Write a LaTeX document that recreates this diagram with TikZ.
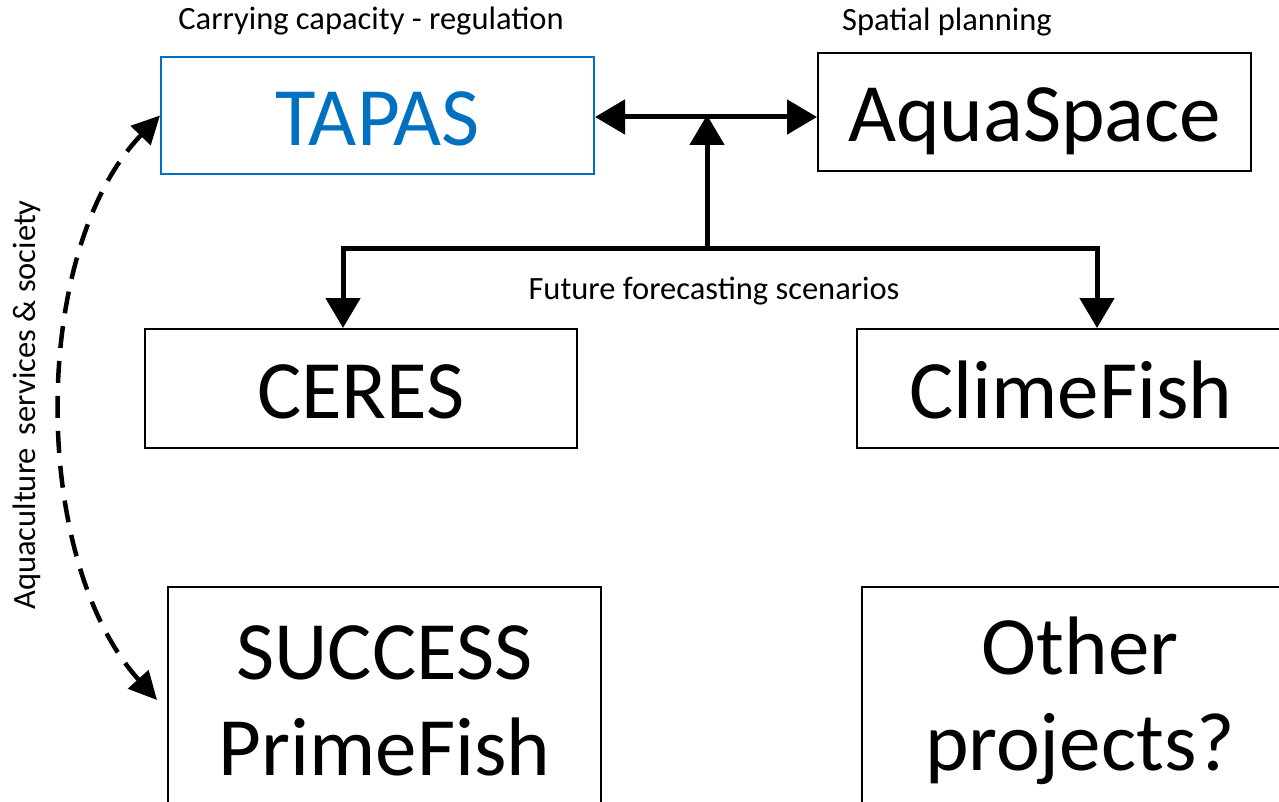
\documentclass[tikz,border=0pt]{standalone}
\usepackage{fontspec}
\setmainfont{Carlito}
\usetikzlibrary{arrows.meta}
\definecolor{tapasblue}{RGB}{0,112,192}
\tikzset{bigtip/.tip={Triangle[length=30pt,width=34pt]},
  dashtip/.tip={Triangle[length=28pt,width=27pt]}}
\begin{document}
\begin{tikzpicture}[x=1pt,y=-1pt,
  bigbox/.style={draw=black,line width=2pt,inner sep=0pt,align=center,
    font=\fontsize{83}{96}\selectfont},
  oneline/.style={text height=60pt,text depth=0pt},
  smalllabel/.style={font=\fontsize{32.5}{36}\selectfont,inner sep=0pt},
  conn/.style={line width=5pt,draw=black},
  dashcurve/.style={line width=4.5pt,dash pattern=on 22pt off 13pt}]
\useasboundingbox (0,0) rectangle (1279,802);
% boxes
\node[bigbox,oneline,draw=tapasblue,text=tapasblue,minimum width=433pt,minimum height=117pt] (tapas) at (377.5,115.5) {TAPAS};
\node[bigbox,oneline,minimum width=433pt,minimum height=118pt] (aqua) at (1034.5,112) {AquaSpace};
\node[bigbox,oneline,minimum width=432pt,minimum height=119pt] (ceres) at (361,388.5) {CERES};
\node[bigbox,oneline,minimum width=428pt,minimum height=119pt] (clime) at (1071,388.5) {ClimeFish};
\node[bigbox,minimum width=433pt,minimum height=228pt] (succ) at (384.5,701) {SUCCESS\\PrimeFish};
\node[bigbox,minimum width=436pt,minimum height=228pt] (other) at (1080,701) {Other\\projects?};
% labels
\node[smalllabel] (lcarry) at (371,21) {Carrying capacity - regulation};
\node[smalllabel] (lspatial) at (947,22) {Spatial planning};
\node[smalllabel] (lfuture) at (714,291) {Future forecasting scenarios};
\node[smalllabel,rotate=90] (lsoc) at (27,405) {Aquaculture\, services \& society};
% connectors
\coordinate (junc) at (707,117);
\coordinate (mid) at (707,249);
\coordinate (bl) at (343,249);
\coordinate (br) at (1097,249);
\coordinate (sp) at (157,700);
\draw[conn,{bigtip}-{bigtip}] (tapas.east |- junc) -- (aqua.west |- junc);
\draw[conn,-{bigtip}] (mid) -- ([yshift=2pt]junc);
\draw[conn,{bigtip}-{bigtip}] (bl |- ceres.north) -- (bl) -- (br) -- (br |- clime.north);
\draw[dashcurve,{dashtip}-{dashtip}] (tapas.west) .. controls (30,250) and (30,560) .. (sp);
\end{tikzpicture}
\end{document}
